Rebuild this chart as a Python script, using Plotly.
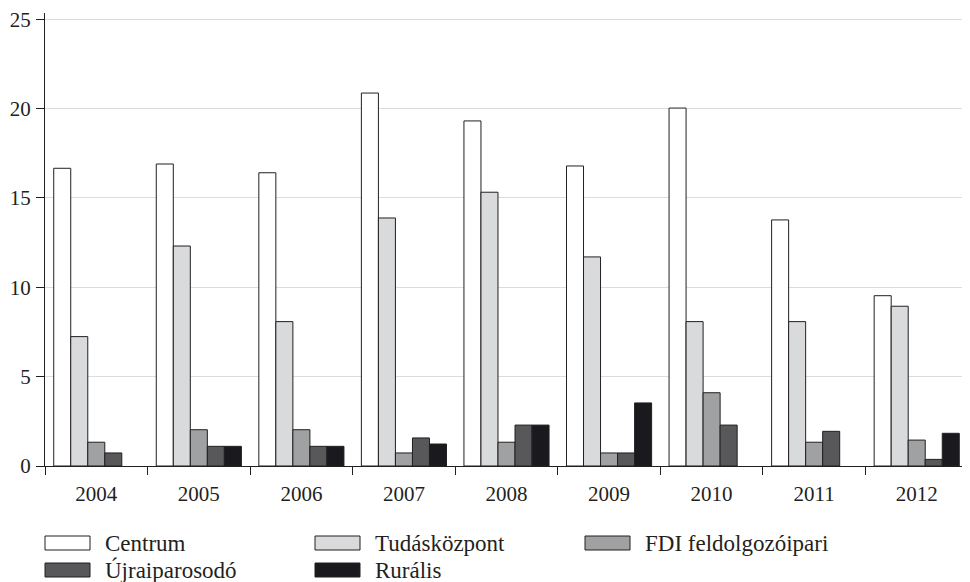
import plotly.graph_objects as go

years = ["2004", "2005", "2006", "2007", "2008", "2009", "2010", "2011", "2012"]
series_names = ["Centrum", "Tudásközpont", "FDI feldolgozóipari", "Újraiparosodó", "Rurális"]
centrum = [16.66, 16.9, 16.41, 20.87, 19.31, 16.79, 20.03, 13.77, 9.53]
tudaskozpont = [7.24, 12.31, 8.08, 13.88, 15.32, 11.70, 8.08, 8.08, 8.94]
fdi = [1.33, 2.03, 2.03, 0.73, 1.33, 0.73, 4.10, 1.33, 1.45]
ujraiparosodo = [0.73, 1.10, 1.10, 1.57, 2.29, 0.73, 2.29, 1.94, 0.37]
ruralis = [None, 1.10, 1.10, 1.23, 2.29, 3.53, None, None, 1.83]
series_values = [centrum, tudaskozpont, fdi, ujraiparosodo, ruralis]
colors = ["#ffffff", "#d9dadc", "#a0a1a3", "#58585a", "#1a191d"]
y_ticks = [0, 5, 10, 15, 20, 25]

FONT = "Liberation Serif"
TXT = "#231f20"

fig = go.Figure()
for name, vals, col in zip(series_names, series_values, colors):
    fig.add_trace(go.Bar(
        x=years, y=vals, name=name,
        marker=dict(color=col, line=dict(color="#231f20", width=1)),
        showlegend=False,
    ))

# custom legend (wide rectangles like the original)
col_step = 270
for i, (name, col) in enumerate(zip(series_names, colors)):
    r, c = divmod(i, 3)
    x0 = c * col_step
    ytop = -70 - r * 27
    fig.add_shape(type="rect", xref="paper", yref="paper",
                  xsizemode="pixel", ysizemode="pixel",
                  xanchor=0, yanchor=0,
                  x0=x0, x1=x0 + 45, y0=ytop, y1=ytop - 14,
                  fillcolor=col, line=dict(color="#231f20", width=1))
    fig.add_annotation(xref="paper", yref="paper", x=0, y=0,
                       xanchor="left", yanchor="middle",
                       xshift=x0 + 58, yshift=ytop - 7,
                       text=name, showarrow=False,
                       font=dict(family=FONT, size=23, color=TXT))

# page body adds an 8px margin, so the figure is sized to fit the window
fig.update_layout(
    width=962, height=574,
    margin=dict(l=37, r=2, t=5, b=116),
    paper_bgcolor="white", plot_bgcolor="white",
    barmode="group", bargap=0.17, bargroupgap=0,
    font=dict(family=FONT, size=21, color=TXT),
    xaxis=dict(
        type="category", showline=True, linecolor="#231f20", linewidth=1,
        ticks="outside", tickson="boundaries", ticklen=8, tickcolor="#231f20",
        showgrid=False, ticklabelstandoff=9, automargin=False,
        tickfont=dict(family=FONT, size=21, color=TXT),
    ),
    yaxis=dict(
        range=[0, 25.35], tickvals=y_ticks, showline=True,
        linecolor="#231f20", linewidth=1, ticks="outside", ticklen=8,
        tickcolor="#231f20", showgrid=True, gridcolor="#dcdcdc", gridwidth=1,
        zeroline=False, ticklabelstandoff=1, automargin=False,
        ticklabeloverflow="allow",
        tickfont=dict(family=FONT, size=21, color=TXT),
    ),
)

fig.write_html("out.html")
